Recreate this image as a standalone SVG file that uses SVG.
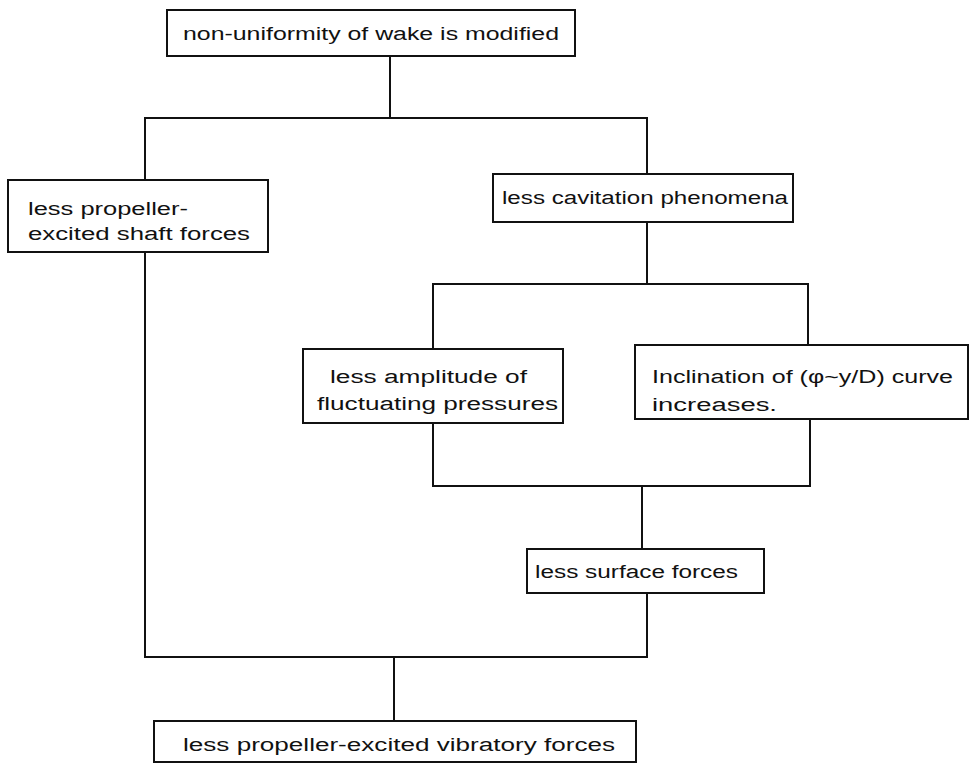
<svg xmlns="http://www.w3.org/2000/svg" width="977" height="764" viewBox="0 0 977 764">
<style>
  .box { fill: #ffffff; stroke: #111111; stroke-width: 2; }
  .t { font-family: "Liberation Sans", "DejaVu Sans", sans-serif; font-size: 18px; fill: #111111; }
  .c { fill: none; stroke: #111111; stroke-width: 2; }
</style>
<rect width="977" height="764" fill="#ffffff"/>
<g id="connectors">
  <path class="c" d="M390,56 V118"/>
  <path class="c" d="M145,180 V118 H647 V174"/>
  <path class="c" d="M145,252 V657 H647 V593"/>
  <path class="c" d="M647,222 V284"/>
  <path class="c" d="M433,349 V284 H808 V345"/>
  <path class="c" d="M433,423 V486 H810 V419"/>
  <path class="c" d="M642,486 V549"/>
  <path class="c" d="M394,657 V721"/>
</g>
<g id="node-wake">
  <rect class="box" x="167" y="10" width="408" height="46"/>
  <text class="t" x="183" y="40" textLength="376" lengthAdjust="spacingAndGlyphs">non-uniformity of wake  is  modified</text>
</g>
<g id="node-shaft">
  <rect class="box" x="8" y="180" width="260" height="72"/>
  <text class="t" x="28" y="215" textLength="160" lengthAdjust="spacingAndGlyphs">less propeller-</text>
  <text class="t" x="28" y="240" textLength="222" lengthAdjust="spacingAndGlyphs">excited shaft forces</text>
</g>
<g id="node-cavitation">
  <rect class="box" x="493" y="174" width="300" height="48"/>
  <text class="t" x="502" y="204" textLength="286" lengthAdjust="spacingAndGlyphs">less cavitation  phenomena</text>
</g>
<g id="node-amplitude">
  <rect class="box" x="303" y="349" width="260" height="74"/>
  <text class="t" x="330" y="383" textLength="197" lengthAdjust="spacingAndGlyphs">less amplitude of</text>
  <text class="t" x="317" y="410" textLength="241" lengthAdjust="spacingAndGlyphs">fluctuating pressures</text>
</g>
<g id="node-inclination">
  <rect class="box" x="635" y="345" width="333" height="74"/>
  <text class="t" x="652" y="383" textLength="301" lengthAdjust="spacingAndGlyphs">Inclination of (φ~y/D) curve</text>
  <text class="t" x="652" y="411" textLength="125" lengthAdjust="spacingAndGlyphs">increases.</text>
</g>
<g id="node-surface">
  <rect class="box" x="527" y="549" width="237" height="44"/>
  <text class="t" x="535" y="578" textLength="203" lengthAdjust="spacingAndGlyphs">less surface forces</text>
</g>
<g id="node-vibratory">
  <rect class="box" x="154" y="721" width="482" height="41"/>
  <text class="t" x="183" y="751" textLength="432" lengthAdjust="spacingAndGlyphs">less  propeller-excited  vibratory  forces</text>
</g>
</svg>
